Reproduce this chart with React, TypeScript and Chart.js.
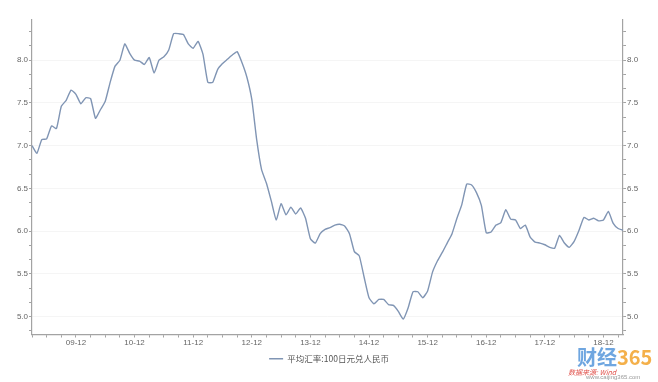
import React, { useEffect, useRef } from 'react';
import { Chart, registerables } from 'chart.js';

Chart.register(...registerables);

// Monthly categories 2009-03 … 2019-04
const months: string[] = [];
for (let y = 2009, m = 3; months.length < 122; ) {
  months.push(String(y % 100).padStart(2, '0') + '-' + String(m).padStart(2, '0'));
  m++;
  if (m > 12) { m = 1; y++; }
}

const seriesName = '平均汇率:100日元兑人民币';

const rates2009to2012: number[] = [
  7.00, 6.91, 7.07, 7.08, 7.23, 7.20, 7.46, 7.53, 7.65, 7.60,
  7.49, 7.56, 7.55, 7.32, 7.42, 7.52, 7.74, 7.93, 8.00, 8.19,
  8.08, 8.00, 7.99, 7.95, 8.03, 7.85, 8.00, 8.04, 8.12, 8.31,
  8.31, 8.30, 8.19, 8.14, 8.22, 8.07, 7.74, 7.74, 7.89, 7.96,
  8.01, 8.06, 8.10, 7.97, 7.80, 7.54, 7.07, 6.72,
];
const rates2013to2015: number[] = [
  6.56, 6.35, 6.13, 6.32, 6.19, 6.28, 6.20, 6.27, 6.15, 5.91,
  5.86, 5.97, 6.02, 6.04, 6.07, 6.08, 6.06, 5.97, 5.76, 5.71,
  5.46, 5.22, 5.15, 5.20, 5.20, 5.14, 5.13, 5.06, 4.97, 5.10,
];
const rates2015to2019: number[] = [
  5.29, 5.29, 5.22, 5.30, 5.52, 5.65, 5.75, 5.86, 5.97, 6.15,
  6.31, 6.55, 6.54, 6.45, 6.30, 5.98, 5.99, 6.07, 6.10, 6.25,
  6.14, 6.13, 6.03, 6.07, 5.93, 5.87, 5.86, 5.84, 5.81, 5.80,
  5.95, 5.86, 5.81, 5.88, 6.01, 6.16, 6.13, 6.15, 6.12, 6.13,
  6.23, 6.09, 6.03, 6.01,
];
const rates: number[] = [...rates2009to2012, ...rates2013to2015, ...rates2015to2019];

const yMin = 4.79;
const yMax = 8.47;

const isMajor = (v: number) => Math.abs(v * 2 - Math.round(v * 2)) < 1e-6;

export default function App() {
  const ref = useRef<HTMLCanvasElement>(null);

  useEffect(() => {
    const axisColor = '#a3a3a3';
    const labelColor = '#666';
    const tickFont = { family: '"Liberation Sans", Arial, sans-serif', size: 8 };
    const yTickValues: number[] = [];
    for (let k = 29; k <= 50; k++) yTickValues.push(k / 6);

    const yAxis = (pos: 'left' | 'right', width: number) => ({
      position: pos,
      min: yMin,
      max: yMax,
      afterBuildTicks: (s: any) => { s.ticks = yTickValues.map((v) => ({ value: v })); },
      afterFit: (s: any) => { s.width = width; },
      grid: {
        drawOnChartArea: pos === 'left',
        color: (ctx: any) => (ctx.tick && isMajor(ctx.tick.value) ? 'rgba(0,0,0,0.04)' : 'rgba(0,0,0,0)'),
        tickColor: axisColor,
        tickLength: 3,
      },
      border: { color: axisColor, width: 1.2 },
      ticks: {
        padding: 1,
        font: tickFont,
        color: labelColor,
        autoSkip: false,
        callback: (v: any) => (isMajor(Number(v)) ? Number(v).toFixed(1) : ''),
      },
    });

    const chart = new Chart(ref.current!, {
      type: 'line',
      data: {
        labels: months,
        datasets: [
          {
            label: seriesName,
            data: rates,
            borderColor: '#8095b4',
            backgroundColor: '#8095b4',
            borderWidth: 1.4,
            pointRadius: 0,
            tension: 0.15,
            fill: false,
          },
        ],
      },
      options: {
        animation: false,
        responsive: false,
        maintainAspectRatio: false,
        layout: { padding: { top: 20, bottom: 9, left: 0, right: 0 } },
        plugins: {
          legend: {
            position: 'bottom',
            labels: {
              usePointStyle: true,
              pointStyle: 'line',
              pointStyleWidth: 14,
              padding: 2,
              color: '#555',
              font: { family: '"Noto Sans CJK SC", "Liberation Sans", sans-serif', size: 8.5 },
            },
          },
          tooltip: { enabled: false },
        },
        scales: {
          x: {
            type: 'category',
            offset: false,
            afterFit: (s: any) => { s.height = 18; },
            grid: {
              drawOnChartArea: false,
              tickLength: 3,
              tickColor: (ctx: any) => (ctx.index % 3 === 0 ? axisColor : 'rgba(0,0,0,0)'),
            },
            border: { color: axisColor, width: 1.2 },
            ticks: {
              autoSkip: false,
              maxRotation: 0,
              minRotation: 0,
              padding: 0,
              font: tickFont,
              color: labelColor,
              callback: (_v: any, i: number) => (months[i].endsWith('-12') ? months[i] : ''),
            },
          },
          y: yAxis('left', 32),
          y2: yAxis('right', 35),
        } as any,
      },
    } as any);
    return () => chart.destroy();
  }, []);

  return (
    <div style={{ position: 'fixed', left: 0, top: 0, width: 658, height: 382, background: '#fff', overflow: 'hidden' }}>
      <canvas ref={ref} width={658} height={382} style={{ width: 658, height: 382, display: 'block' }} />
      <div style={{ position: 'absolute', left: 577, top: 346, fontFamily: '"Noto Sans CJK SC", sans-serif', fontSize: 20, fontWeight: 700, lineHeight: '22px', whiteSpace: 'nowrap' }}>
        <span style={{ color: '#6fa6e0' }}>财经</span>
        <span style={{ color: '#f4b04a' }}>365</span>
      </div>
      <div style={{ position: 'absolute', left: 568, top: 367, fontFamily: '"Noto Sans CJK SC", sans-serif', fontSize: 7, fontStyle: 'italic', color: '#e0504a', whiteSpace: 'nowrap' }}>
        数据来源: Wind
      </div>
      <div style={{ position: 'absolute', left: 586, top: 374, fontFamily: '"Liberation Sans", sans-serif', fontSize: 6, color: '#999', whiteSpace: 'nowrap' }}>
        www.caijing365.com
      </div>
    </div>
  );
}
